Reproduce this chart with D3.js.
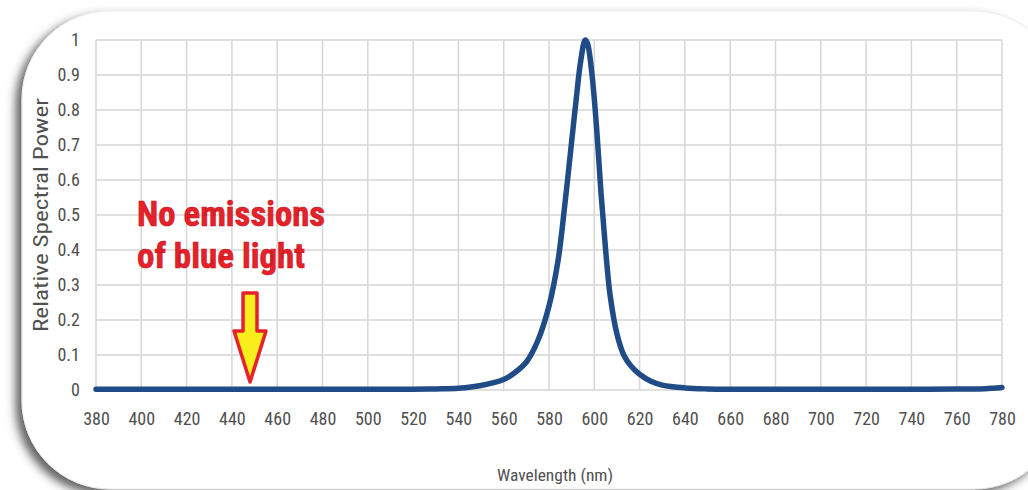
<!DOCTYPE html>
<html><head><meta charset="utf-8">
<script src="https://cdn.jsdelivr.net/npm/d3@7"></script>
<style>
html,body{margin:0;padding:0;background:#fff;}
svg{display:block;}
</style></head>
<body>
<svg id="chart" width="1028" height="490"></svg>
<script>
// ---- data ----
const wavelengths = [380,400,420,440,460,480,500,520,530,540,550,560,565,570,575,580,584,587,590,592,594,596,597,599,601,603,605,607,610,613,616,620,625,630,640,650,660,680,700,720,740,760,770,776,780];
const power       = [0.002,0.002,0.002,0.002,0.002,0.002,0.002,0.002,0.003,0.005,0.013,0.03,0.05,0.08,0.14,0.24,0.37,0.53,0.71,0.83,0.94,1.0,0.99,0.90,0.75,0.56,0.40,0.27,0.16,0.10,0.07,0.045,0.025,0.014,0.006,0.003,0.002,0.002,0.002,0.002,0.002,0.003,0.003,0.005,0.007];
const xTicks = [380,400,420,440,460,480,500,520,540,560,580,600,620,640,660,680,700,720,740,760,780];
const yTicks = [0,0.1,0.2,0.3,0.4,0.5,0.6,0.7,0.8,0.9,1];
const yTickLabels = ["0","0.1","0.2","0.3","0.4","0.5","0.6","0.7","0.8","0.9","1"];
const annotationLines = ["No emissions","of blue light"];
const arrowAt = 448;

const svg = d3.select("#chart");
const defs = svg.append("defs");
const f = defs.append("filter").attr("id","shadow").attr("x","-10%").attr("y","-10%").attr("width","120%").attr("height","125%");
f.append("feDropShadow").attr("dx",-6).attr("dy",5).attr("stdDeviation",5).attr("flood-color","#3a3a3a").attr("flood-opacity",0.8);

// card
svg.append("rect").attr("x",22).attr("y",11).attr("width",1040).attr("height",478)
  .attr("rx",88).attr("ry",88).attr("fill","#fff").attr("stroke","#ececec").attr("stroke-width",1)
  .attr("filter","url(#shadow)");

const x = d3.scaleLinear().domain([380,780]).range([96,1002]);
const y = d3.scaleLinear().domain([0,1]).range([390,40]);

// grid
const g = svg.append("g");
g.selectAll("line.v").data(xTicks).join("line")
  .attr("x1",d=>x(d)).attr("x2",d=>x(d)).attr("y1",y(1)).attr("y2",y(0))
  .attr("stroke","#d6d6d6").attr("stroke-width",1.5);
g.selectAll("line.h").data(yTicks).join("line")
  .attr("x1",x(380)).attr("x2",x(780)).attr("y1",d=>y(d)).attr("y2",d=>y(d))
  .attr("stroke","#d6d6d6").attr("stroke-width",1.5);

const font = "'Liberation Sans Narrow','Arial Narrow','Roboto Condensed',sans-serif";

// axes
const xAxis = svg.append("g").attr("transform",`translate(0,${y(0)})`)
  .call(d3.axisBottom(x).tickValues(xTicks).tickSize(0).tickPadding(22).tickFormat(d3.format("d")));
xAxis.select(".domain").remove();
xAxis.selectAll("text").attr("font-family",font).attr("font-size",18).attr("fill","#505050");

const yAxis = svg.append("g").attr("transform",`translate(${x(380)},0)`)
  .call(d3.axisLeft(y).tickValues(yTicks).tickSize(0).tickPadding(16).tickFormat((d,i)=>yTickLabels[i]));
yAxis.select(".domain").remove();
yAxis.selectAll("text").attr("font-family",font).attr("font-size",18).attr("fill","#505050");

// axis titles
svg.append("text").attr("transform","translate(48,215) rotate(-90)").attr("text-anchor","middle")
  .attr("font-family",font).attr("font-size",20).attr("fill","#505050")
  .attr("textLength",234).attr("lengthAdjust","spacingAndGlyphs")
  .text("Relative Spectral Power");
svg.append("text").attr("x",555).attr("y",481).attr("text-anchor","middle")
  .attr("font-family",font).attr("font-size",17).attr("fill","#505050")
  .attr("textLength",116).attr("lengthAdjust","spacingAndGlyphs")
  .text("Wavelength (nm)");

// line
const data = wavelengths.map((w,i)=>({w, p:power[i]}));
svg.append("path").datum(data)
  .attr("d", d3.line().x(d=>x(d.w)).y(d=>y(d.p)).curve(d3.curveCatmullRom.alpha(0.5)))
  .attr("fill","none").attr("stroke","#1f4c86").attr("stroke-width",5.5)
  .attr("stroke-linejoin","round").attr("stroke-linecap","round");

// annotation
const ann = svg.append("g");
ann.selectAll("text").data(annotationLines).join("text")
  .attr("x",137).attr("y",(d,i)=>226+i*42)
  .attr("font-family",font).attr("font-weight","bold").attr("font-size",35)
  .attr("fill","#e5222b").attr("stroke","#c8141c").attr("stroke-width",0.6)
  .attr("textLength",(d,i)=>i===0?188:168).attr("lengthAdjust","spacingAndGlyphs")
  .text(d=>d);

// arrow
const ax = x(arrowAt);
const arrowPath = `M${ax-7},293 L${ax+7},293 L${ax+7},331 L${ax+16},331 L${ax},382 L${ax-16},331 L${ax-7},331 Z`;
svg.append("path").attr("d",arrowPath).attr("fill","#f7ee1c").attr("stroke","#e5222b")
  .attr("stroke-width",3.5).attr("stroke-linejoin","round");
</script>
</body></html>
